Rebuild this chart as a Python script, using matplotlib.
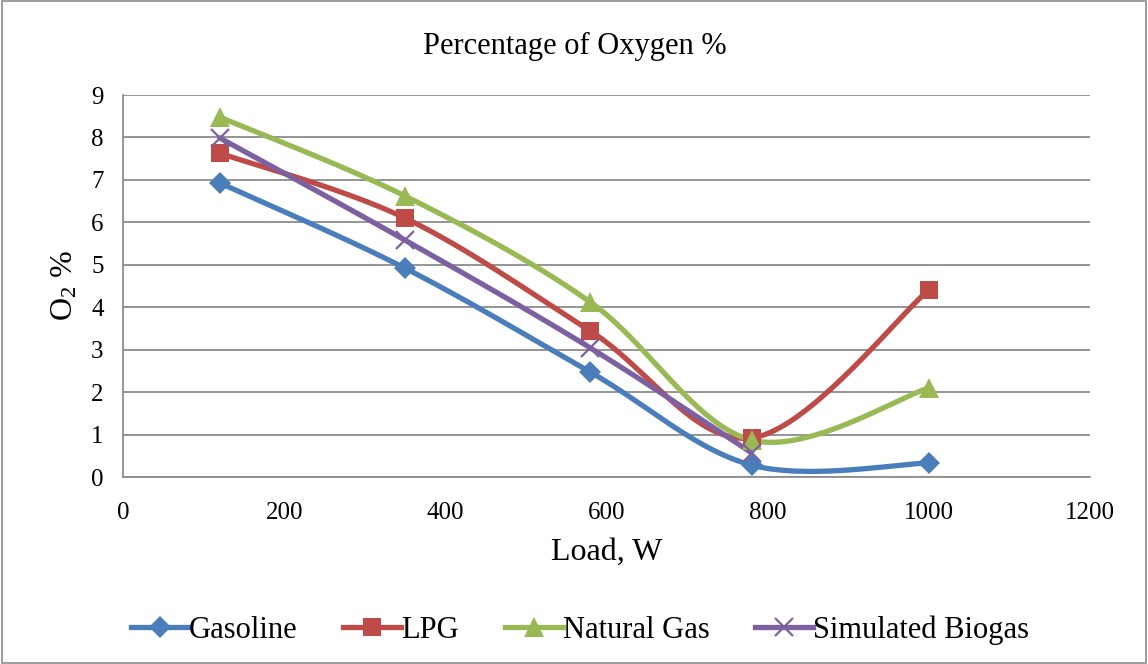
import numpy as np
import matplotlib
matplotlib.use("Agg")
import matplotlib.pyplot as plt
from matplotlib.lines import Line2D

plt.rcParams['font.family'] = ['Liberation Serif', 'DejaVu Serif']
plt.rcParams['mathtext.fontset'] = 'custom'
plt.rcParams['mathtext.rm'] = 'Liberation Serif'
plt.rcParams['mathtext.it'] = 'Liberation Serif:italic'

load_all = [120, 350, 580, 780, 1000]
load_biogas = [120, 350, 580, 780]
gasoline = [6.93, 4.92, 2.47, 0.28, 0.33]
lpg = [7.63, 6.10, 3.44, 0.92, 4.41]
natural_gas = [8.48, 6.62, 4.12, 0.87, 2.10]
biogas = [7.99, 5.58, 3.04, 0.57]

series = [
    ("Gasoline", load_all, gasoline, "#4A7EBB", "D", 11),
    ("LPG", load_all, lpg, "#BE4B48", "s", 13),
    ("Natural Gas", load_all, natural_gas, "#98B954", "^", 15),
    ("Simulated Biogas", load_biogas, biogas, "#7D60A0", "x", 13),
]


def smooth(xs, ys, n=40):
    P = np.column_stack([xs, ys]).astype(float)
    m = len(P)
    out = []
    for i in range(m - 1):
        p0 = P[i - 1] if i > 0 else P[i]
        p1 = P[i]
        p2 = P[i + 1]
        p3 = P[i + 2] if i + 2 < m else P[i + 1]
        c1 = p1 + (p2 - p0) / 6.0
        c2 = p2 - (p3 - p1) / 6.0
        t = np.linspace(0, 1, n)[:, None]
        seg = ((1 - t) ** 3) * p1 + 3 * ((1 - t) ** 2) * t * c1 + 3 * (1 - t) * t ** 2 * c2 + t ** 3 * p2
        out.append(seg if i == 0 else seg[1:])
    c = np.vstack(out)
    return c[:, 0], c[:, 1]


fig = plt.figure(figsize=(11.48, 6.64), dpi=100)
ax = fig.add_axes([123 / 1148, 1 - 477 / 664, (1090 - 123) / 1148, (477 - 95) / 664])

handles = []
for name, xs, ys, col, mk, ms in series:
    sx, sy = smooth(xs, ys)
    ax.plot(sx, sy, color=col, lw=3.8, solid_capstyle='round', zorder=3)
    mew = 1.6 if mk == 'x' else 0
    ax.plot(xs, ys, linestyle='none', marker=mk, ms=ms, color=col, mec=col, mew=mew, zorder=4)
    handles.append(Line2D([0], [0], color=col, lw=3.8, marker=mk, ms=ms, mec=col, mew=mew))

ax.set_xlim(0, 1200)
ax.set_ylim(0, 9)
ax.set_xticks(np.arange(0, 1201, 200))
ax.set_yticks(np.arange(0, 10, 1))
ax.grid(axis='y', color='#8C8C8C', lw=1.3)
ax.set_axisbelow(True)
for s in ['top', 'right']:
    ax.spines[s].set_visible(False)
for s in ['left', 'bottom']:
    ax.spines[s].set_color('#8C8C8C')
    ax.spines[s].set_linewidth(1.3)
ax.tick_params(axis='both', labelsize=18, length=0)
ax.tick_params(axis='x', pad=18)
ax.tick_params(axis='y', pad=14)

ax.set_xlabel("Load, W", fontsize=23, labelpad=10)
ax.set_ylabel("O$_2$ %", fontsize=23, labelpad=8)
fig.text(575 / 1148, 1 - 46 / 664, "Percentage of Oxygen %", ha='center', va='center', fontsize=22)

fig.legend(handles, [s[0] for s in series], loc='center', bbox_to_anchor=(580 / 1148, 1 - 630 / 664),
           ncol=4, frameon=False, fontsize=22, handlelength=1.9, handletextpad=0.0, columnspacing=1.5)

border = plt.Rectangle((0.002, 0.002), 0.996, 0.996, transform=fig.transFigure, fill=False,
                       edgecolor='#8C8C8C', lw=1.2)
fig.patches.append(border)

fig.savefig("out.png", dpi=100)
